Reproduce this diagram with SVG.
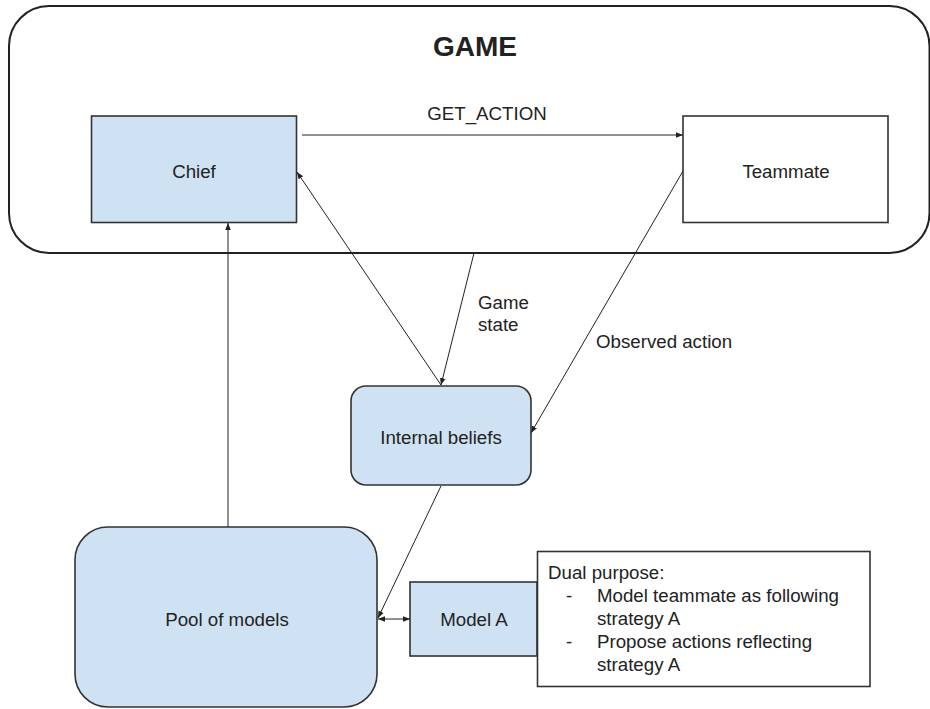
<svg xmlns="http://www.w3.org/2000/svg" width="930" height="709" viewBox="0 0 930 709">
  <style>
    text { font-family: "Liberation Sans", Arial, sans-serif; fill: #222; font-size: 18.7px; }
    .mid { text-anchor: middle; }
    .box { stroke: #333; stroke-width: 1.6; }
    .blue { fill: #cfe2f3; }
    .white { fill: #fff; }
    .conn { stroke: #222; stroke-width: 1; fill: none; }
  </style>
  <defs>
    <marker id="arrow" viewBox="0 0 10 10" refX="10" refY="5" markerWidth="7" markerHeight="7" orient="auto-start-reverse" markerUnits="userSpaceOnUse">
      <path d="M0,1 L10,5 L0,9 Z" fill="#222"/>
    </marker>
  </defs>
  <rect width="930" height="709" fill="#fff"/>

  <!-- outer game boundary -->
  <g id="game">
    <rect x="9" y="6" width="920.5" height="247" rx="40" ry="40" fill="none" stroke="#222" stroke-width="2"/>
    <text x="475" y="56" class="mid" font-weight="bold" style="font-size:28px">GAME</text>
  </g>

  <g id="chief">
    <rect x="91.5" y="116" width="205" height="106.5" class="box blue"/>
    <text x="194" y="177.5" class="mid">Chief</text>
  </g>

  <g id="teammate">
    <rect x="683" y="116" width="205" height="106.5" class="box white"/>
    <text x="786" y="177.5" class="mid">Teammate</text>
  </g>

  <g id="internal-beliefs">
    <rect x="351" y="386" width="180" height="99" rx="15" ry="15" class="box blue"/>
    <text x="441" y="443.5" class="mid">Internal beliefs</text>
  </g>

  <g id="pool-of-models">
    <rect x="75" y="527" width="302" height="180" rx="33" ry="33" class="box blue"/>
    <text x="227" y="626" class="mid">Pool of models</text>
  </g>

  <g id="model-a">
    <rect x="410" y="582" width="127" height="74" class="box blue"/>
    <text x="474" y="626" class="mid">Model A</text>
  </g>

  <g id="note">
    <rect x="537.5" y="551.5" width="332.5" height="135" class="box white"/>
    <text x="548" y="579">Dual purpose:</text>
    <text x="566" y="602">-</text>
    <text x="597" y="602">Model teammate as following</text>
    <text x="597" y="625">strategy A</text>
    <text x="566" y="648">-</text>
    <text x="597" y="648">Propose actions reflecting</text>
    <text x="597" y="671">strategy A</text>
  </g>

  <!-- connectors -->
  <g id="connectors">
    <line x1="302" y1="135" x2="683" y2="135" class="conn" marker-end="url(#arrow)"/>
    <line x1="474" y1="253" x2="441" y2="385" class="conn" marker-end="url(#arrow)"/>
    <line x1="441" y1="385" x2="297" y2="172" class="conn" marker-end="url(#arrow)"/>
    <line x1="683" y1="171" x2="531" y2="433" class="conn" marker-end="url(#arrow)"/>
    <line x1="441" y1="486" x2="378" y2="618" class="conn" marker-end="url(#arrow)"/>
    <line x1="228" y1="527" x2="228" y2="223" class="conn" marker-end="url(#arrow)"/>
    <line x1="378" y1="619" x2="410" y2="619" class="conn" marker-start="url(#arrow)" marker-end="url(#arrow)"/>
    <text x="487" y="120" class="mid">GET_ACTION</text>
    <text x="478" y="309">Game</text>
    <text x="478" y="331">state</text>
    <text x="596" y="348">Observed action</text>
  </g>
</svg>
